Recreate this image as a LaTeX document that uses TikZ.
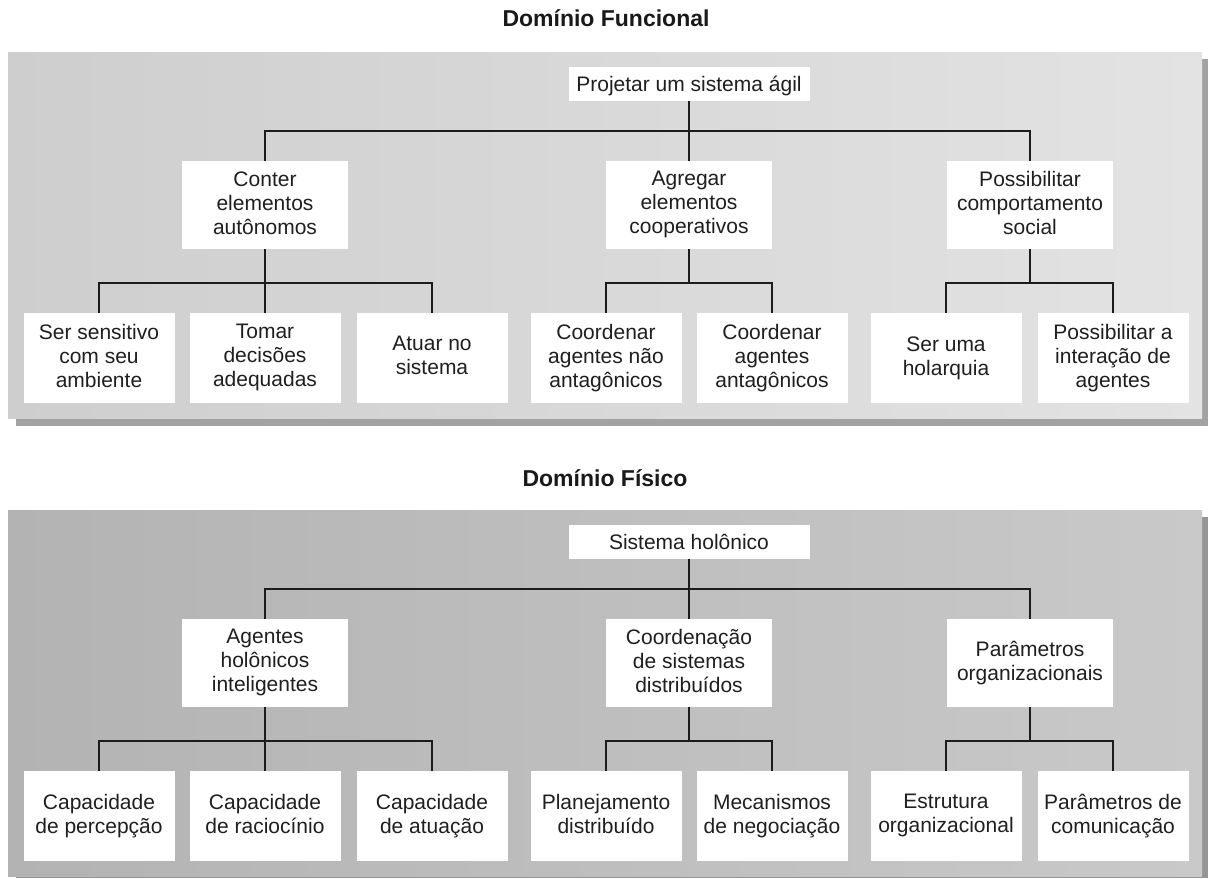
\documentclass[tikz,border=0pt]{standalone}
\usepackage{fontspec}
\setmainfont{Liberation Sans}
\definecolor{linkcol}{HTML}{1C1C1C}
\definecolor{fnleft}{HTML}{CECECE}
\definecolor{fnright}{HTML}{E3E3E3}
\definecolor{phleft}{HTML}{B3B3B3}
\definecolor{phright}{HTML}{C9C9C9}
\definecolor{shadowcol}{HTML}{A2A2A2}
% uniform line box so that every label sits at the same height in its box
\newcommand\linestrut{\rule[-4.5pt]{0pt}{24pt}}
\begin{document}
\begin{tikzpicture}[x=1pt,y=-1pt,
  box/.style={fill=white, inner sep=0pt, align=center, text=black!88,
              font=\fontsize{21}{24}\selectfont,
              execute at begin node=\linestrut, execute at end node=\linestrut},
  rootbox/.style={box, minimum width=241pt, minimum height=34pt},
  midbox/.style={box, minimum width=166pt, minimum height=88pt},
  leafbox/.style={box, minimum width=151pt, minimum height=90pt},
  heading/.style={font=\bfseries\fontsize{23}{26}\selectfont, text=black!90, anchor=base, inner sep=0pt},
  link/.style={draw=linkcol, line width=2.4pt}]
\useasboundingbox (0,0) rectangle (1209,878);

% ---------- functional domain panel ----------
\node[heading] (tf) at (606,27) {Domínio Funcional};
\fill[shadowcol] (16,59) rectangle (1208,426);
\shade[left color=fnleft, right color=fnright] (8,52) rectangle (1202,418);

\node[rootbox] (f0) at (689,84) {Projetar um sistema ágil};
\node[midbox] (f1) at (265,205) {Conter\\elementos\\autônomos};
\node[midbox] (f2) at (689,205) {Agregar\\elementos\\cooperativos};
\node[midbox] (f3) at (1030,205) {Possibilitar\\comportamento\\social};

\node[leafbox] (f11) at (99,358)   {Ser sensitivo\\com seu\\ambiente};
\node[leafbox] (f12) at (265,358)  {Tomar\\decisões\\adequadas};
\node[leafbox] (f13) at (432,358)  {Atuar no\\sistema};
\node[leafbox] (f21) at (606,358)  {Coordenar\\agentes não\\antagônicos};
\node[leafbox] (f22) at (772,358)  {Coordenar\\agentes\\antagônicos};
\node[leafbox] (f31) at (946,358)  {Ser uma\\holarquia};
\node[leafbox] (f32) at (1113,358) {Possibilitar a\\interação de\\agentes};

\coordinate (fj)  at (689,131);
\coordinate (fj1) at (265,283);
\coordinate (fj2) at (689,283);
\coordinate (fj3) at (1030,283);
\draw[link] (f0.south) -- (f2.north);
\draw[link] (f1.north) |- (fj) -| (f3.north);
\draw[link] (f1.south) -- (f12.north);
\draw[link] (f11.north) |- (fj1) -| (f13.north);
\draw[link] (f2.south) -- (fj2);
\draw[link] (f21.north) |- (fj2) -| (f22.north);
\draw[link] (f3.south) -- (fj3);
\draw[link] (f31.north) |- (fj3) -| (f32.north);

% ---------- physical domain panel ----------
\node[heading] (tp) at (605,486) {Domínio Físico};
\fill[shadowcol!92!black] (16,517) rectangle (1208,878);
\shade[left color=phleft, right color=phright] (8,510) rectangle (1202,876);

\node[rootbox] (p0) at (689,542) {Sistema holônico};
\node[midbox] (p1) at (265,663) {Agentes\\holônicos\\inteligentes};
\node[midbox] (p2) at (689,663) {Coordenação\\de sistemas\\distribuídos};
\node[midbox] (p3) at (1030,663) {Parâmetros\\organizacionais};

\node[leafbox] (p11) at (99,816)   {Capacidade\\de percepção};
\node[leafbox] (p12) at (265,816)  {Capacidade\\de raciocínio};
\node[leafbox] (p13) at (432,816)  {Capacidade\\de atuação};
\node[leafbox] (p21) at (606,816)  {Planejamento\\distribuído};
\node[leafbox] (p22) at (772,816)  {Mecanismos\\de negociação};
\node[leafbox] (p31) at (946,816)  {Estrutura\\organizacional};
\node[leafbox] (p32) at (1113,816) {Parâmetros de\\comunicação};

\coordinate (pj)  at (689,589);
\coordinate (pj1) at (265,741);
\coordinate (pj2) at (689,741);
\coordinate (pj3) at (1030,741);
\draw[link] (p0.south) -- (p2.north);
\draw[link] (p1.north) |- (pj) -| (p3.north);
\draw[link] (p1.south) -- (p12.north);
\draw[link] (p11.north) |- (pj1) -| (p13.north);
\draw[link] (p2.south) -- (pj2);
\draw[link] (p21.north) |- (pj2) -| (p22.north);
\draw[link] (p3.south) -- (pj3);
\draw[link] (p31.north) |- (pj3) -| (p32.north);
\end{tikzpicture}
\end{document}
